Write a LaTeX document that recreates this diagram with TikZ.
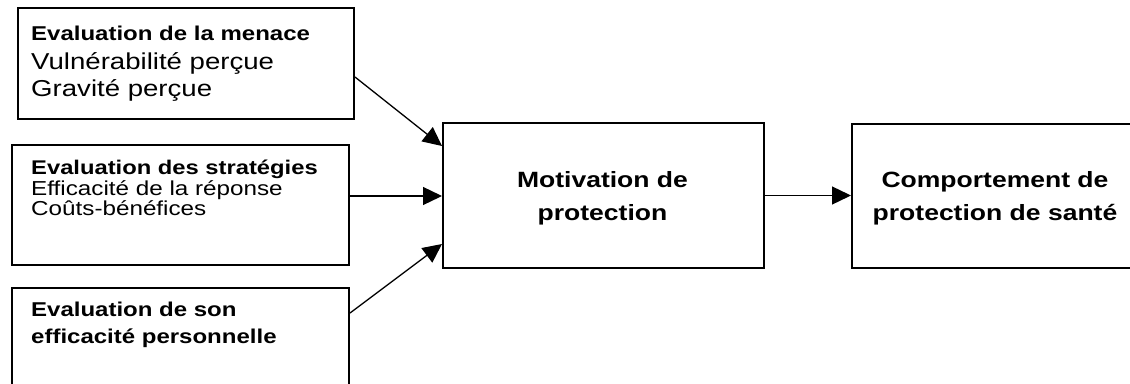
\documentclass[tikz,border=0pt]{standalone}
\usepackage{fontspec}
\newfontfamily\arialw[FakeStretch=1.2]{Liberation Sans}
\usetikzlibrary{arrows.meta}
\newcommand\setfs[1]{\fontsize{#1}{#1}\selectfont}

\begin{document}
\begin{tikzpicture}[x=1pt,y=-1pt,
  box/.style={draw, line width=2pt, inner sep=0pt, anchor=north west},
  txt/.style={inner sep=0pt, anchor=base west, font=\arialw},
  ctxt/.style={inner sep=0pt, anchor=base, font=\arialw\bfseries\setfs{22.1}},
  link/.style={line width=1.3pt, -{Triangle[length=19pt,width=18pt]}}
]
\useasboundingbox (0,0) rectangle (1130,383);
\clip (0,0) rectangle (1130,383);

% boxes
\node[box, minimum width=336pt, minimum height=111pt] (b1) at (17,7) {};
\node[box, minimum width=337pt, minimum height=120pt] (b2) at (11,144) {};
\node[box, minimum width=337pt, minimum height=113pt] (b3) at (11,287) {};
\node[box, minimum width=321pt, minimum height=145pt] (m) at (442,122) {};
\node[box, minimum width=289pt, minimum height=144pt] (r) at (851,123) {};

% texts of the appraisal boxes
\node[txt, font=\arialw\bfseries\setfs{20}] (t11) at (31,40.7) {Evaluation de la menace};
\node[txt, font=\arialw\setfs{23}] (t12) at (31,69) {Vulnérabilité perçue};
\node[txt, font=\arialw\setfs{23}] (t13) at (31,96.7) {Gravité perçue};

\node[txt, font=\arialw\bfseries\setfs{19.8}] (t21) at (31,174.5) {Evaluation des stratégies};
\node[txt, font=\arialw\setfs{20.2}] (t22) at (31,195.7) {Efficacité de la réponse};
\node[txt, font=\arialw\setfs{20.2}] (t23) at (31,215.7) {Coûts-bénéfices};

\node[txt, font=\arialw\bfseries\setfs{20}] (t31) at (31,316) {Evaluation de son};
\node[txt, font=\arialw\bfseries\setfs{20}] (t32) at (31,343) {efficacité personnelle};

% texts of the outcome boxes
\node[ctxt] (tm1) at (602.5,187.3) {Motivation de};
\node[ctxt] (tm2) at (602.5,220) {protection};
\node[ctxt] (tr1) at (995,187.3) {Comportement de};
\node[ctxt] (tr2) at (995,220) {protection de santé};

% connectors
\draw[link] ([yshift=-13.5pt]b1.east) -- ([yshift=49.5pt]m.west);
\draw[link] ([yshift=9pt]b2.east) -- ([yshift=9pt]b2.east -| m.west);
\draw[link] ([yshift=31.5pt]b3.east) -- ([yshift=-48.5pt]m.west);
\draw[link] (m.east) -- (m.east -| r.west);
\end{tikzpicture}
\end{document}
